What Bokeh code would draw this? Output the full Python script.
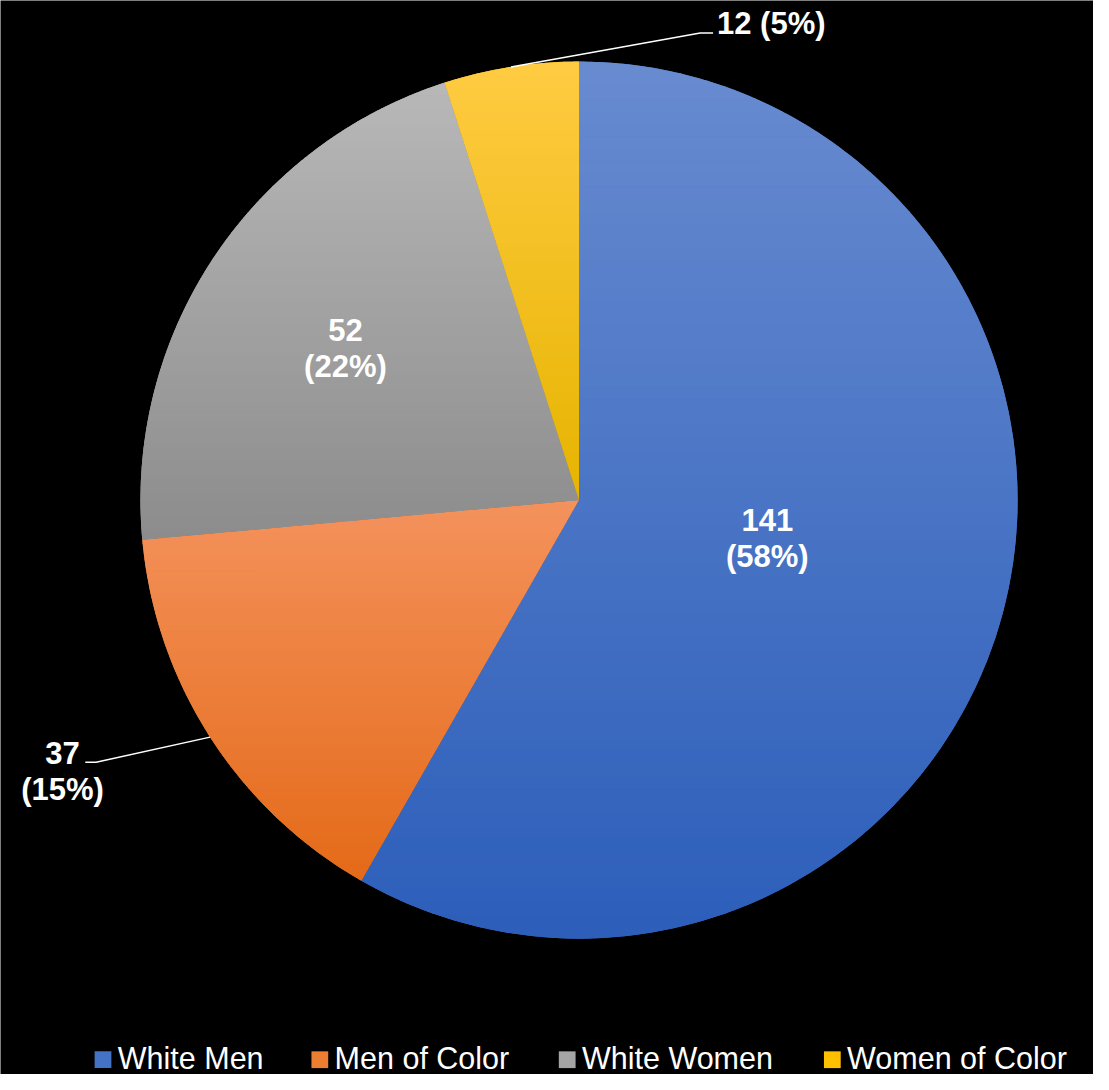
import numpy as np
from bokeh.plotting import figure
from bokeh.models import Range1d
from bokeh.core.properties import value
from bokeh.embed import file_html
from bokeh.resources import INLINE

# ---- data ----
categories = ["White Men", "Men of Color", "White Women", "Women of Color"]
counts = [141, 37, 52, 12]
pct_labels = ["58%", "15%", "22%", "5%"]

# ---- style ----
top_colors = [(104, 139, 208), (244, 146, 92), (184, 184, 184), (255, 203, 66)]
bot_colors = [(44, 94, 186), (228, 106, 24), (140, 140, 140), (230, 180, 0)]
mid_colors = ["#4472C4", "#ED7D31", "#A5A5A5", "#FFC000"]

W, H = 1093, 1074          # figure size in screen pixels
REF_W, REF_H = 1109, 1090  # layout coordinate space
def Y(py):  # layout y (from top) -> data y
    return REF_H - py

CX, CY, R = 587, Y(507), 445

p = figure(width=W, height=H, output_backend="svg", toolbar_location=None,
           x_range=Range1d(0, REF_W), y_range=Range1d(0, REF_H),
           min_border=0, background_fill_color="black", border_fill_color="black",
           outline_line_color=None)
p.axis.visible = False
p.grid.visible = False

total = float(sum(counts))
fracs = np.array(counts) / total
cum = np.concatenate([[0], np.cumsum(fracs)])
start_angles = np.pi / 2 - cum[:-1] * 2 * np.pi
end_angles = np.pi / 2 - cum[1:] * 2 * np.pi

# base wedges (clockwise from 12 o'clock)
p.wedge(x=CX, y=CY, radius=R, start_angle=end_angles, end_angle=start_angles,
        fill_color=mid_colors, line_color=None)

# vertical gradient overlay: clip each slice into horizontal bands
def clip(poly, yv, keep_above):
    out = []
    n = len(poly)
    for i in range(n):
        cur = poly[i]
        prev = poly[i - 1]
        cin = cur[1] >= yv if keep_above else cur[1] <= yv
        pin = prev[1] >= yv if keep_above else prev[1] <= yv
        if cin != pin:
            t = (yv - prev[1]) / (cur[1] - prev[1])
            out.append((prev[0] + t * (cur[0] - prev[0]), yv))
        if cin:
            out.append(cur)
    return out

xs_all, ys_all, cols_all = [], [], []
NB = 70
for k in range(len(counts)):
    a = np.linspace(start_angles[k], end_angles[k], 400)
    poly = [(CX, CY)] + [(CX + R * np.cos(t), CY + R * np.sin(t)) for t in a]
    ys = [q[1] for q in poly]
    ymin, ymax = min(ys), max(ys)
    edges = np.linspace(ymin, ymax, NB + 1)
    for b in range(NB):
        y0, y1 = edges[b], edges[b + 1] + 0.6
        pc = clip(clip(poly, y0, True), y1, False)
        if len(pc) < 3:
            continue
        f = ((edges[b] + edges[b + 1]) / 2 - ymin) / (ymax - ymin)  # 0 bottom, 1 top
        c = tuple(int(round(bot_colors[k][j] + (top_colors[k][j] - bot_colors[k][j]) * f)) for j in range(3))
        xs_all.append([q[0] for q in pc])
        ys_all.append([q[1] for q in pc])
        cols_all.append("#%02x%02x%02x" % c)
p.patches(xs_all, ys_all, fill_color=cols_all, line_color=None)

# ---- data labels ----
lbl_font = value("Liberation Sans")
LBL_SIZE = "31px"
# inside labels: (x center, line1 middle, line2 middle)
inside = {0: (778, 527, 564), 2: (350, 334, 371)}
for k, (lx, m1, m2) in inside.items():
    p.text(x=[lx, lx], y=[Y(m1), Y(m2)], text=[str(counts[k]), "(" + pct_labels[k] + ")"],
           text_color="white", text_font=lbl_font, text_font_style="bold",
           text_font_size=LBL_SIZE, text_align="center", text_baseline="middle")

# outside labels with leader lines
mid_angles = (start_angles + end_angles) / 2
# Men of Color
k = 1
ax, ay = CX + R * np.cos(mid_angles[k]), CY + R * np.sin(mid_angles[k])
p.line(x=[ax, 97, 86], y=[ay, Y(773), Y(773)], line_color="white", line_width=1.5)
p.text(x=[63, 63], y=[Y(764), Y(801)], text=[str(counts[k]), "(" + pct_labels[k] + ")"],
       text_color="white", text_font=lbl_font, text_font_style="bold",
       text_font_size=LBL_SIZE, text_align="center", text_baseline="middle")
# Women of Color
k = 3
ax, ay = CX + R * np.cos(mid_angles[k]), CY + R * np.sin(mid_angles[k])
p.line(x=[ax, 710, 723], y=[ay, Y(33), Y(33)], line_color="white", line_width=1.5)
p.text(x=[727], y=[Y(23)], text=[str(counts[k]) + " (" + pct_labels[k] + ")"],
       text_color="white", text_font=lbl_font, text_font_style="bold",
       text_font_size=LBL_SIZE, text_align="left", text_baseline="middle")

# ---- legend ----
leg_x = [96, 316, 567, 836]
p.rect(x=[x + 8 for x in leg_x], y=[Y(1075)] * 4, width=17, height=17,
       fill_color=mid_colors, line_color=None)
p.text(x=[x + 23 for x in leg_x], y=[Y(1073)] * 4, text=categories,
       text_color="white", text_font=lbl_font, text_font_size="30.5px",
       text_align="left", text_baseline="middle")

open("out.html", "w").write(file_html(p, INLINE))
